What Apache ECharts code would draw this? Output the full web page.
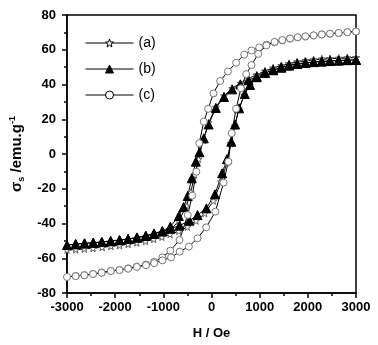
<!DOCTYPE html>
<html><head><meta charset="utf-8">
<script src="https://cdn.jsdelivr.net/npm/echarts@6/dist/echarts.min.js"></script>
<style>html,body{margin:0;padding:0;background:#fff}#c{width:378px;height:345px}</style>
</head><body><div id="c"></div>
<script>
// Tick settings
var xTicks = [-3000, -2000, -1000, 0, 1000, 2000, 3000];
var yTicks = [-80, -60, -40, -20, 0, 20, 40, 60, 80];
var seriesNames = ['(a)', '(b)', '(c)'];

// (a) stars: descending branch (H from +3000 to -3000), then ascending branch
var aDown = [[3000,55.5],[2820,55.4],[2640,55.1],[2460,54.9],[2290,54.6],[2120,54.2],[1950,53.7],[1780,53],[1610,52],[1450,50.8],[1280,49.3],[1110,47.6],[940,45.6],[770,43.5],[600,40.8],[430,37.8],[260,33.5],[90,27],[-60,18],[-170,8],[-270,-3],[-350,-12],[-430,-22],[-520,-30],[-680,-38.5],[-860,-44],[-1030,-46.8],[-1200,-48.5],[-1370,-49.8],[-1550,-50.8],[-1730,-51.7],[-1910,-52.4],[-2090,-53],[-2270,-53.6],[-2460,-54.1],[-2640,-54.5],[-2820,-54.9],[-3000,-55.2]];
var aUp = [[-2820,-55],[-2640,-54.6],[-2460,-54.2],[-2270,-53.7],[-2090,-53.1],[-1910,-52.6],[-1730,-51.9],[-1550,-51.1],[-1370,-50.2],[-1200,-49.1],[-1030,-47.8],[-860,-46.2],[-680,-44.5],[-500,-42],[-320,-38.5],[-140,-34.2],[40,-27],[200,-16],[320,-5],[400,6],[480,16],[570,26],[680,34],[790,40.5],[940,45.3],[1110,47.8],[1280,49.6],[1450,51],[1610,52.2],[1780,53.1],[1950,53.8],[2120,54.3],[2290,54.7],[2460,55],[2640,55.2],[2820,55.4],[3000,55.5]];

// (b) filled triangles
var bDown = [[3000,54.1],[2820,54.1],[2640,53.8],[2460,53.5],[2290,53.2],[2120,52.9],[1950,52.4],[1780,51.8],[1610,50.9],[1450,49.7],[1280,48.2],[1110,46.6],[940,44.5],[770,42.4],[600,40],[430,37.2],[260,32.8],[90,26.5],[-60,17],[-160,9],[-250,1],[-325,-4.4],[-410,-14],[-494,-24.2],[-580,-30.5],[-678,-35.7],[-854,-41.8],[-1020,-44.3],[-1194,-45.7],[-1364,-47],[-1548,-48],[-1732,-48.9],[-1910,-49.5],[-2093,-50],[-2277,-50.6],[-2455,-51],[-2636,-51.4],[-2820,-51.8],[-3000,-52.4]];
var bUp = [[-2820,-52],[-2636,-51.5],[-2455,-51.1],[-2277,-50.7],[-2093,-50.2],[-1910,-49.6],[-1732,-49],[-1548,-48.2],[-1364,-47.2],[-1194,-46],[-1020,-44.6],[-854,-43],[-664,-41.2],[-460,-38.4],[-290,-35.1],[-106,-31.3],[71,-23.2],[221,-11.1],[320,-3],[411,7.1],[490,17],[574,26.3],[690,34.5],[800,39.7],[936,44.2],[1110,46.8],[1280,48.4],[1450,49.9],[1610,51],[1780,51.9],[1950,52.5],[2120,53],[2290,53.3],[2460,53.6],[2640,53.8],[2820,54],[3000,54.1]];

// (c) open circles
var cDown = [[3000,70.5],[2820,70.1],[2640,69.6],[2460,69.2],[2290,68.8],[2120,68.2],[1950,67.6],[1790,67.1],[1630,66.4],[1470,65.4],[1310,64.3],[1140,62.9],[990,61.3],[830,59.6],[680,57.2],[510,52.5],[340,47.5],[180,42],[40,34.9],[-70,26],[-160,18.6],[-255,6.2],[-315,-10.2],[-400,-24],[-494,-35.1],[-664,-49.5],[-854,-55.6],[-1020,-59.5],[-1190,-62],[-1360,-63.6],[-1550,-64.8],[-1730,-65.8],[-1910,-66.7],[-2090,-67.3],[-2280,-68.2],[-2460,-69],[-2640,-69.7],[-2820,-70.2],[-3000,-70.8]];
var cUp = [[-2820,-70.3],[-2640,-69.8],[-2460,-69.1],[-2280,-68.4],[-2090,-67.4],[-1910,-66.8],[-1730,-66],[-1550,-65],[-1360,-64],[-1190,-62.8],[-1020,-61.2],[-840,-59.5],[-660,-56.2],[-470,-53.3],[-290,-48.5],[-110,-42.2],[80,-33.2],[250,-16.5],[350,-4.4],[420,12],[510,26],[610,37.8],[720,46],[830,51.2],[970,57.6],[1140,62.5],[1310,64.5],[1470,65.6],[1630,66.5],[1790,67.2],[1950,67.7],[2120,68.3],[2290,68.8],[2460,69.3],[2640,69.7],[2820,70.1],[3000,70.5]];

var FONT = 'Liberation Sans';
var STAR = 'path://M0,-10 L2.35,-3.24 L9.51,-3.09 L3.8,1.24 L5.88,8.09 L0,4 L-5.88,8.09 L-3.8,1.24 L-9.51,-3.09 L-2.35,-3.24 Z';
var styles = [
  {symbol: STAR, size: 7, fill: '#fff', stroke: '#666'},
  {symbol: 'triangle', size: 9, fill: '#000', stroke: '#000'},
  {symbol: 'circle', size: 7, fill: '#fff', stroke: '#777'}
];
var chart = echarts.init(document.getElementById('c'), null, {renderer: 'canvas'});
function mk(i, data) {
  var st = styles[i];
  return {
    name: seriesNames[i], type: 'line', data: data, symbol: st.symbol, symbolSize: st.size,
    showAllSymbol: true, animation: false, z: 2,
    lineStyle: {color: '#000', width: 1},
    itemStyle: {color: st.fill, borderColor: st.stroke, borderWidth: 1}
  };
}
function plain(v) { return String(v); }
var option = {
  animation: false,
  grid: {left: 62, right: 22, top: 15, bottom: 52, show: true, borderColor: '#000', borderWidth: 1.5, containLabel: false},
  legend: {
    orient: 'vertical', left: 80, top: 31, itemWidth: 48, itemHeight: 10, itemGap: 12,
    textStyle: {fontFamily: FONT, fontSize: 14, color: '#000'},
    lineStyle: {color: '#000', width: 1, opacity: 1},
    data: seriesNames.map(function (n, i) {
      return {name: n, itemStyle: {color: styles[i].fill, borderColor: '#000', borderWidth: 1}, lineStyle: {color: '#000', width: 1, opacity: 1}};
    })
  },
  xAxis: {
    type: 'value', min: xTicks[0], max: xTicks[xTicks.length-1], interval: 1000,
    name: 'H / Oe', nameLocation: 'middle', nameGap: 34,
    nameTextStyle: {fontFamily: FONT, fontSize: 13, fontWeight: 'bold', color: '#000'},
    axisLine: {show: true, onZero: false, lineStyle: {color: '#000', width: 1.5}},
    axisTick: {show: true, length: 5, lineStyle: {color: '#000', width: 1.5}},
    minorTick: {show: true, splitNumber: 2, length: 3, lineStyle: {color: '#000', width: 1.5}},
    splitLine: {show: false},
    axisLabel: {margin: 8, fontFamily: FONT, fontSize: 13, fontWeight: 'bold', color: '#000', formatter: plain}
  },
  yAxis: {
    type: 'value', min: yTicks[0], max: yTicks[yTicks.length-1], interval: 20,
    name: '{s|σ}{sub|s}{s| /emu.g}{sup|-1}', nameLocation: 'middle', nameGap: 41, nameRotate: 90,
    nameTextStyle: {
      fontFamily: FONT, fontSize: 15, fontWeight: 'bold', color: '#000',
      rich: {
        s: {fontFamily: FONT, fontSize: 15, fontWeight: 'bold', color: '#000', verticalAlign: 'middle', lineHeight: 18},
        sub: {fontFamily: FONT, fontSize: 9, fontWeight: 'bold', color: '#000', verticalAlign: 'bottom', lineHeight: 18},
        sup: {fontFamily: FONT, fontSize: 9, fontWeight: 'bold', color: '#000', verticalAlign: 'top', lineHeight: 18}
      }
    },
    axisLine: {show: true, onZero: false, lineStyle: {color: '#000', width: 1.5}},
    axisTick: {show: true, length: 5, lineStyle: {color: '#000', width: 1.5}},
    minorTick: {show: true, splitNumber: 2, length: 3, lineStyle: {color: '#000', width: 1.5}},
    splitLine: {show: false},
    axisLabel: {margin: 11, fontFamily: FONT, fontSize: 13, fontWeight: 'bold', color: '#000', formatter: plain}
  },
  series: [
    mk(0, aDown.concat(aUp)),
    mk(1, bDown.concat(bUp)),
    mk(2, cDown.concat(cUp))
  ]
};
chart.setOption(option);
</script></body></html>
